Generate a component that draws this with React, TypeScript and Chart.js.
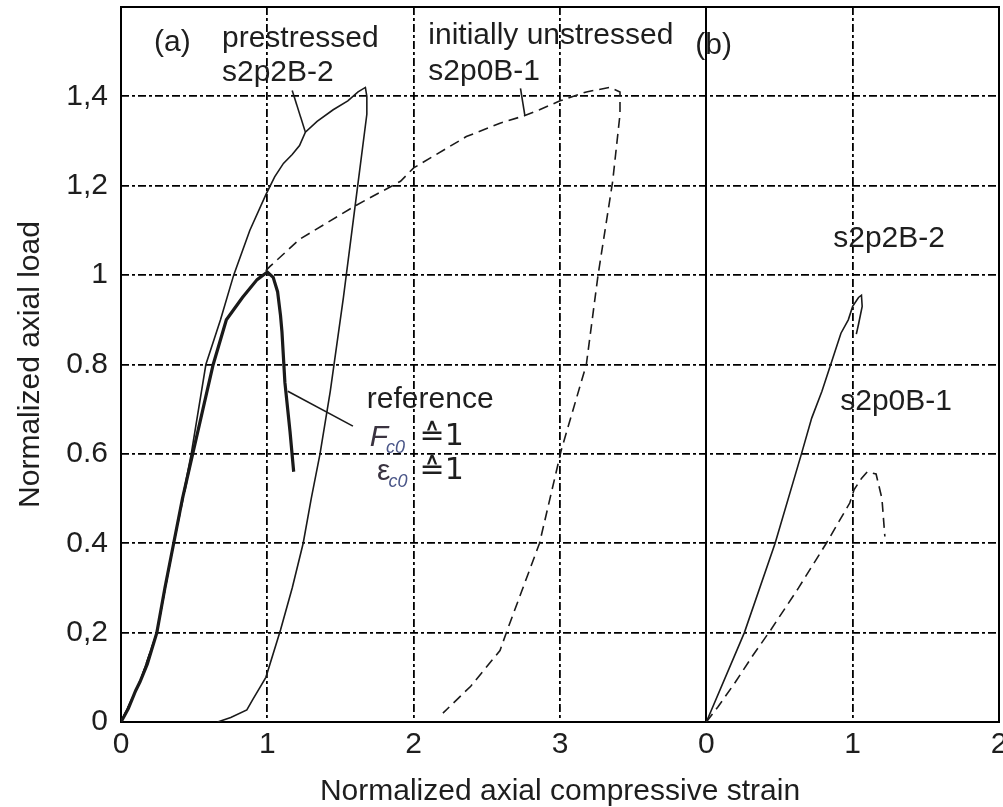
import React, { useEffect, useRef } from "react";
import { Chart, registerables } from "chart.js";

Chart.register(...registerables);

// ---------- data ----------
const xTickValues = [0, 1, 2, 3, 4, 5, 6];
const xTickLabels = ["0", "1", "2", "3", "0", "1", "2"];
const yTickValues = [0, 0.2, 0.4, 0.6, 0.8, 1.0, 1.2, 1.4];
const yTickLabels = ["0", "0,2", "0.4", "0.6", "0.8", "1", "1,2", "1,4"];
const panelBOffset = 4;

// panel (a)
const refX = [0, 0.05, 0.1, 0.13, 0.18, 0.245, 0.3, 0.36, 0.42, 0.49, 0.56, 0.63, 0.72, 0.83, 0.93, 1.0, 1.04, 1.07, 1.09, 1.1, 1.12, 1.155, 1.18];
const refY = [0, 0.03, 0.07, 0.09, 0.13, 0.2, 0.3, 0.4, 0.5, 0.6, 0.7, 0.8, 0.9, 0.95, 0.99, 1.007, 0.995, 0.963, 0.91, 0.873, 0.76, 0.65, 0.56];

const preAX = [0, 0.13, 0.245, 0.36, 0.48, 0.58, 0.68, 0.77, 0.88, 0.99, 1.05, 1.11, 1.17, 1.22, 1.26, 1.34, 1.45, 1.55, 1.62, 1.67, 1.68, 1.68, 1.6, 1.52, 1.43, 1.36, 1.3, 1.245, 1.17, 1.09, 0.99, 0.9, 0.86, 0.75, 0.66];
const preAY = [0, 0.09, 0.2, 0.4, 0.6, 0.8, 0.9, 1.0, 1.1, 1.18, 1.22, 1.25, 1.27, 1.29, 1.32, 1.344, 1.37, 1.39, 1.41, 1.42, 1.4, 1.36, 1.155, 0.95, 0.74, 0.6, 0.5, 0.4, 0.3, 0.206, 0.1, 0.05, 0.027, 0.01, 0];

const unAX = [0, 0.13, 0.245, 0.36, 0.49, 0.63, 0.72, 0.83, 0.93, 1.02, 1.22, 1.6, 1.91, 2.0, 2.36, 2.59, 2.76, 2.86, 3.0, 3.18, 3.34, 3.41, 3.41, 3.36, 3.26, 3.18, 3.01, 2.86, 2.64, 2.59, 2.39, 2.2];
const unAY = [0, 0.09, 0.2, 0.4, 0.6, 0.8, 0.9, 0.95, 0.99, 1.02, 1.08, 1.155, 1.21, 1.24, 1.31, 1.34, 1.357, 1.37, 1.39, 1.41, 1.42, 1.41, 1.36, 1.21, 1.0, 0.8, 0.61, 0.4, 0.206, 0.16, 0.08, 0.02];

// panel (b)
const preBX = [0, 0.26, 0.47, 0.65, 0.72, 0.79, 0.855, 0.92, 0.97, 1.0, 1.04, 1.06, 1.065, 1.04, 1.025];
const preBY = [0, 0.2, 0.4, 0.6, 0.68, 0.74, 0.805, 0.87, 0.9, 0.93, 0.95, 0.955, 0.93, 0.89, 0.868];

const unBX = [0, 0.08, 0.2, 0.32, 0.44, 0.63, 0.82, 0.98, 1.01, 1.06, 1.1, 1.16, 1.2, 1.22];
const unBY = [0, 0.034, 0.09, 0.15, 0.206, 0.3, 0.4, 0.49, 0.52, 0.545, 0.56, 0.555, 0.5, 0.415];

// annotations (data units)
const labelTexts = ["(a)", "prestressed", "s2p2B-2", "initially unstressed", "s2p0B-1", "(b)", "s2p2B-2", "s2p0B-1", "reference"];
const labelX = [0.226, 0.69, 0.69, 2.1, 2.1, 3.925, 4.867, 4.915, 1.68];
const labelY = [1.519, 1.53, 1.454, 1.535, 1.456, 1.514, 1.081, 0.716, 0.722];

const leaderX1 = [1.17, 2.73, 1.14];
const leaderY1 = [1.413, 1.418, 0.74];
const leaderX2 = [1.26, 2.76, 1.585];
const leaderY2 = [1.32, 1.357, 0.662];

const zip = (xs: number[], ys: number[], off = 0) => xs.map((x, i) => ({ x: x + off, y: ys[i] }));

const FONT = '"Liberation Sans", Arial, Helvetica, sans-serif';
const INK = "#1a1a1a";
const TXT = "#1e1e1e";

const overlayPlugin = {
  id: "overlay",
  beforeDatasetsDraw(chart: any) {
    const { ctx, chartArea, scales } = chart;
    const xs = scales.x;
    ctx.save();
    ctx.strokeStyle = "#000";
    ctx.lineWidth = 2;
    ctx.setLineDash([]);
    const xd = Math.round(xs.getPixelForValue(panelBOffset));
    ctx.beginPath();
    ctx.moveTo(xd, chartArea.top);
    ctx.lineTo(xd, chartArea.bottom);
    ctx.stroke();
    ctx.strokeRect(chartArea.left, chartArea.top, chartArea.right - chartArea.left, chartArea.bottom - chartArea.top);
    ctx.restore();
  },
  afterDatasetsDraw(chart: any) {
    const { ctx, scales } = chart;
    const xs = scales.x;
    const ys = scales.y;
    ctx.save();
    // leader lines
    ctx.strokeStyle = INK;
    ctx.lineWidth = 1.6;
    ctx.setLineDash([]);
    for (let i = 0; i < leaderX1.length; i++) {
      ctx.beginPath();
      ctx.moveTo(xs.getPixelForValue(leaderX1[i]), ys.getPixelForValue(leaderY1[i]));
      ctx.lineTo(xs.getPixelForValue(leaderX2[i]), ys.getPixelForValue(leaderY2[i]));
      ctx.stroke();
    }
    // labels
    ctx.fillStyle = TXT;
    ctx.textBaseline = "middle";
    ctx.textAlign = "left";
    ctx.font = `30px ${FONT}`;
    for (let i = 0; i < labelTexts.length; i++) {
      ctx.fillText(labelTexts[i], xs.getPixelForValue(labelX[i]), ys.getPixelForValue(labelY[i]));
    }
    // F_c0 ≙ 1 and ε_c0 ≙ 1
    const drawSym = (sym: string, x: number, y: number, italic: boolean) => {
      const px = xs.getPixelForValue(x);
      const py = ys.getPixelForValue(y);
      ctx.font = `${italic ? "italic " : ""}30px ${FONT}`;
      ctx.fillStyle = "#3a3340";
      ctx.fillText(sym, px, py);
      const w = ctx.measureText(sym).width;
      ctx.font = `italic 18px ${FONT}`;
      ctx.fillStyle = "#4a5688";
      ctx.fillText("c0", px + w - 2, py + 11);
      ctx.font = `30px "DejaVu Sans", ${FONT}`;
      ctx.fillStyle = TXT;
      ctx.fillText("\u22591", xs.getPixelForValue(2.04), py);
    };
    drawSym("F", 1.7, 0.637, true);
    drawSym("\u03B5", 1.75, 0.561, false);
    ctx.restore();
  },
};

export default function App() {
  const ref = useRef<HTMLCanvasElement | null>(null);
  useEffect(() => {
    if (!ref.current) return;
    const common = { pointRadius: 0, borderColor: INK, fill: false, tension: 0, showLine: true };
    const chart = new Chart(ref.current, {
      type: "scatter",
      data: {
        datasets: [
          { ...common, label: "reference", data: zip(refX, refY), borderWidth: 3.2 },
          { ...common, label: "prestressed s2p2B-2 (a)", data: zip(preAX, preAY), borderWidth: 1.6 },
          { ...common, label: "initially unstressed s2p0B-1 (a)", data: zip(unAX, unAY), borderWidth: 1.6, borderDash: [10, 6] },
          { ...common, label: "s2p2B-2 (b)", data: zip(preBX, preBY, panelBOffset), borderWidth: 1.6 },
          { ...common, label: "s2p0B-1 (b)", data: zip(unBX, unBY, panelBOffset), borderWidth: 1.6, borderDash: [10, 6] },
        ],
      },
      options: {
        animation: false,
        responsive: false,
        devicePixelRatio: 1,
        layout: { padding: { left: 0, right: 4, top: 7, bottom: 0 } },
        plugins: { legend: { display: false }, tooltip: { enabled: false } },
        scales: {
          x: {
            type: "linear",
            min: 0,
            max: 6,
            afterBuildTicks: (s: any) => {
              s.ticks = xTickValues.map((v) => ({ value: v }));
            },
            afterFit: (s: any) => {
              s.height = 85;
              s.paddingLeft = 0;
              s.paddingRight = 0;
            },
            ticks: {
              autoSkip: false,
              maxRotation: 0,
              padding: 5,
              color: TXT,
              font: { family: FONT, size: 30 },
              callback: (_v: any, i: number) => xTickLabels[i],
            },
            grid: {
              drawTicks: false,
              lineWidth: 1.8,
              color: (c: any) => {
                const v = c.tick ? c.tick.value : -1;
                return v === 0 || v === 4 || v === 6 ? "rgba(0,0,0,0)" : "#000";
              },
            },
            border: { display: false, dash: [8, 3, 3, 3] },
            title: {
              display: true,
              text: "Normalized axial compressive strain",
              color: TXT,
              font: { family: FONT, size: 30, lineHeight: 1.0 },
              padding: { top: 0, bottom: 0 },
            },
          },
          y: {
            type: "linear",
            min: 0,
            max: 1.6,
            afterBuildTicks: (s: any) => {
              s.ticks = yTickValues.map((v) => ({ value: v }));
            },
            afterFit: (s: any) => {
              s.width = 121;
              s.paddingTop = 0;
              s.paddingBottom = 0;
            },
            ticks: {
              autoSkip: false,
              padding: 13,
              color: TXT,
              font: { family: FONT, size: 30 },
              callback: (_v: any, i: number) => yTickLabels[i],
            },
            grid: {
              drawTicks: false,
              lineWidth: 1.8,
              color: (c: any) => {
                const v = c.tick ? c.tick.value : -1;
                return v === 0 ? "rgba(0,0,0,0)" : "#000";
              },
            },
            border: { display: false, dash: [8, 3, 3, 3] },
            title: {
              display: true,
              text: "Normalized axial load",
              color: TXT,
              font: { family: FONT, size: 30, lineHeight: 1.2 },
              padding: { top: 13, bottom: 0 },
            },
          },
        },
      },
      plugins: [overlayPlugin],
    } as any);
    return () => chart.destroy();
  }, []);
  return (
    <div style={{ position: "absolute", left: 0, top: 0, width: 1003, height: 807, background: "#fff" }}>
      <canvas ref={ref} width={1003} height={807} style={{ display: "block", width: 1003, height: 807 }} />
    </div>
  );
}
